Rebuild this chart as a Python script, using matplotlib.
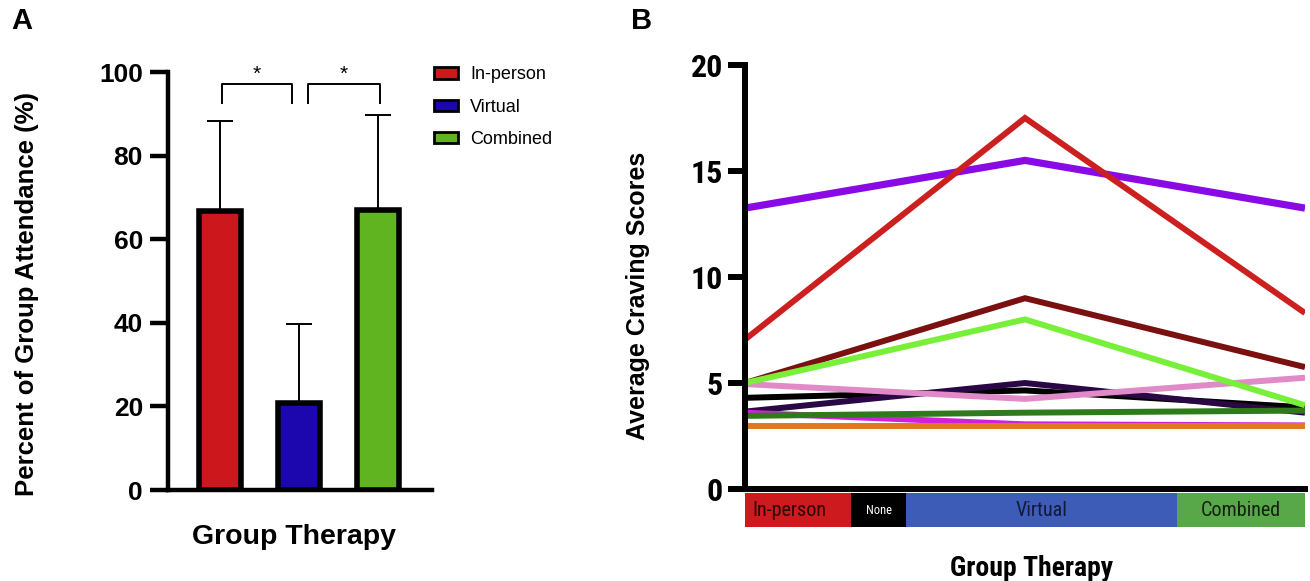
import numpy as np
import matplotlib
matplotlib.use('Agg')
import matplotlib.pyplot as plt
from matplotlib.patches import Patch
from matplotlib import font_manager as fm

# panel A: group attendance
groups = ['In-person', 'Virtual', 'Combined']
attendance_mean = [66.7, 20.8, 67.1]
attendance_sd = [21.6, 18.8, 22.7]
bar_colors = ['#cc181d', '#1c06ae', '#60b41f']

# panel B: craving scores per participant (in-person, virtual, combined)
line_x = [0, 1, 2]
craving = {
    'purple':      [13.25, 15.5, 13.25],
    'red':         [7.05, 17.5, 8.3],
    'darkred':     [5.0, 9.0, 5.75],
    'black':       [4.3, 4.65, 3.85],
    'darkpurple':  [3.65, 5.0, 3.6],
    'magenta':     [3.6, 3.05, 3.0],
    'darkgreen':   [3.45, 3.6, 3.7],
    'orange':      [2.95, 2.95, 2.95],
    'pink':        [4.95, 4.25, 5.25],
    'lime':        [5.0, 8.0, 3.95],
}
line_colors = {
    'purple': '#8a0ae6', 'red': '#cc1f1f', 'darkred': '#7a1010',
    'black': '#000000', 'darkpurple': '#2a0845', 'magenta': '#d020d8',
    'darkgreen': '#2f7a1a', 'orange': '#e07820', 'pink': '#e08ac8',
    'lime': '#78f03a',
}
strip_edges = [0, 0.379, 0.576, 1.542, 2.0]
strip_labels = ['In-person', 'None', 'Virtual', 'Combined']
strip_colors = ['#cc1a1e', '#000000', '#3c5cb8', '#58a84a']
strip_text_colors = ['#2a0808', 'white', '#141a3a', '#142010']

fonts = fm.fontManager.ttflist
names = {f.name for f in fonts}
arial = 'Liberation Sans'
# condensed face for panel B, whatever is installed
if 'Roboto Condensed' in names:
    narrow = dict(family='Roboto Condensed')
elif 'Liberation Sans Narrow' in names:
    narrow = dict(family='Liberation Sans Narrow')
elif any(f.name == 'DejaVu Sans' and 'condensed' in str(f.stretch) for f in fonts):
    narrow = dict(family='DejaVu Sans', stretch='condensed')
else:
    narrow = dict(family=arial)

W, H = 1310, 581
def fx(px):
    return px / W
def fy(py):
    return 1 - py / H

fig = plt.figure(figsize=(13.1, 5.81), dpi=100)

# ---------- panel A ----------
axA = fig.add_axes([fx(168), fy(490), fx(432) - fx(168), fy(72) - fy(490)])
x = np.arange(len(groups))
axA.bar(x, attendance_mean, width=0.54, color=bar_colors, edgecolor='black',
        linewidth=4, zorder=3)
axA.errorbar(x, attendance_mean, yerr=[np.zeros(3), attendance_sd], fmt='none',
             ecolor='black', elinewidth=1.4, capsize=9.4, capthick=1.4, zorder=2)
axA.set_xlim(-0.658, 2.684)
axA.set_ylim(0, 100)
for s in ['top', 'right']:
    axA.spines[s].set_visible(False)
for s in ['left', 'bottom']:
    axA.spines[s].set_linewidth(3.2)
axA.set_xticks([])
axA.set_yticks([0, 20, 40, 60, 80, 100])
axA.tick_params(axis='y', length=13, width=3.2, pad=5)
for lab in axA.get_yticklabels():
    lab.set_fontfamily(arial)
    lab.set_fontweight('bold')
    lab.set_fontsize(19)

# significance brackets
for a, b in [(0.03, 0.91), (1.11, 2.03)]:
    axA.plot([a, a, b, b], [92.6, 97.1, 97.1, 92.6], color='black', lw=1.4,
             clip_on=False)
    axA.text((a + b) / 2, 99.5, '*', ha='center', va='center', fontsize=15,
             family=arial)

handles = [Patch(facecolor=c, edgecolor='black', linewidth=2) for c in bar_colors]
fig.legend(handles, groups, loc='upper left', bbox_to_anchor=(fx(418), fy(50)),
           frameon=False, handlelength=1.3, handleheight=0.6, handletextpad=0.7,
           labelspacing=0.85, prop={'family': arial, 'size': 13})

fig.text(fx(27), fy(294), 'Percent of Group Attendance (%)', rotation=90,
         ha='center', va='center', family=arial, weight='bold', fontsize=18.5)
fig.text(fx(294), fy(537), 'Group Therapy', ha='center', va='center',
         family=arial, weight='bold', fontsize=20.5)
fig.text(fx(22), fy(21), 'A', ha='center', va='center', family=arial,
         weight='bold', fontsize=21)

# ---------- panel B ----------
axB = fig.add_axes([fx(745), fy(489), fx(1305) - fx(745), fy(65) - fy(489)])
for key, vals in craving.items():
    lw = 5.2 if key == 'purple' else 4.3
    axB.plot(line_x, vals, color=line_colors[key], lw=lw, zorder=2,
             solid_capstyle='butt', solid_joinstyle='miter')
axB.set_xlim(0, 2)
axB.set_ylim(0, 20)
for s in ['top', 'right']:
    axB.spines[s].set_visible(False)
for s in ['left', 'bottom']:
    axB.spines[s].set_linewidth(4.3)
    axB.spines[s].set_zorder(4)
axB.set_xticks([])
axB.set_yticks([0, 5, 10, 15, 20])
axB.tick_params(axis='y', length=12, width=4.3, pad=4)
for lab in axB.get_yticklabels():
    lab.set_fontfamily(narrow['family'])
    if 'stretch' in narrow:
        lab.set_fontstretch(narrow['stretch'])
    lab.set_fontweight('bold')
    lab.set_fontsize(23)

axS = fig.add_axes([fx(745), fy(527), fx(1305) - fx(745), fy(493) - fy(527)])
widths = np.diff(strip_edges)
axS.barh(0, widths, left=strip_edges[:-1], height=1, color=strip_colors)
for i, lab in enumerate(strip_labels):
    cx = (strip_edges[i] + strip_edges[i + 1]) / 2
    ha = 'center'
    if i == 0:
        cx = strip_edges[0] + 0.025
        ha = 'left'
    axS.text(cx, -0.02, lab, ha=ha, va='center', color=strip_text_colors[i],
             fontsize=9 if lab == 'None' else 14.5, **narrow)
axS.set_xlim(0, 2)
axS.set_ylim(-0.5, 0.5)
axS.axis('off')

fig.text(fx(638), fy(296), 'Average Craving Scores', rotation=90, ha='center',
         va='center', family=arial, weight='bold', fontsize=18)
fig.text(fx(1032), fy(568), 'Group Therapy', ha='center', va='center',
         weight='bold', fontsize=20, **narrow)
fig.text(fx(642), fy(21), 'B', ha='center', va='center', family=arial,
         weight='bold', fontsize=21)

fig.savefig('out.png', dpi=100)
